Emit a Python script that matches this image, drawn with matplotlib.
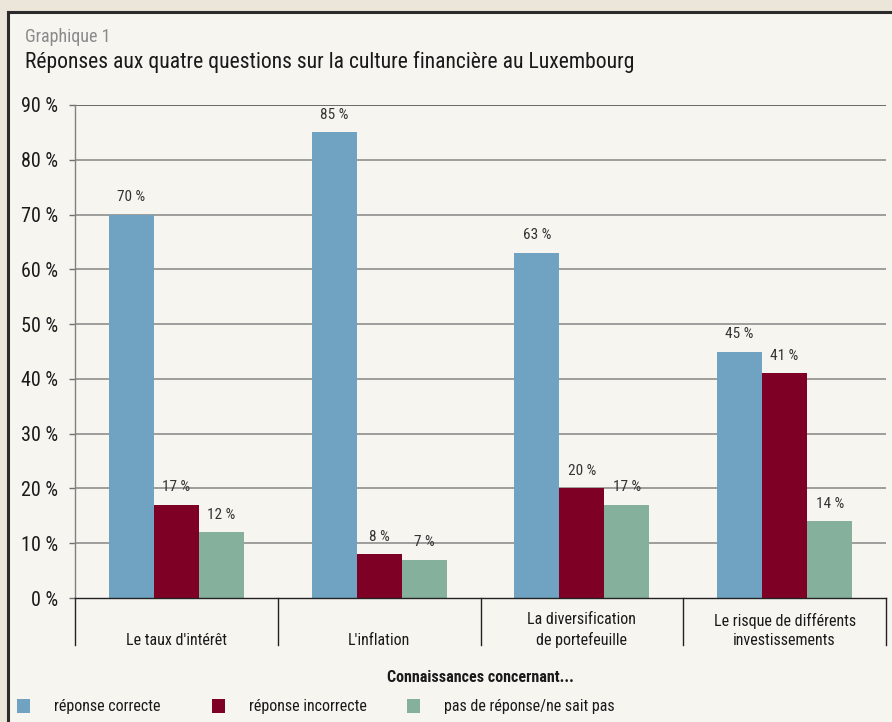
import matplotlib
matplotlib.use("Agg")
import matplotlib.pyplot as plt
from matplotlib.patches import Rectangle
import matplotlib.transforms as mtransforms
import numpy as np

plt.rcParams['font.family'] = ['Roboto Condensed', 'Roboto', 'DejaVu Sans']

categories = ["Le taux d'intérêt", "L'inflation",
              "La diversification\nde portefeuille",
              "Le risque de différents\ninvestissements"]
series_names = ["réponse correcte", "réponse incorrecte", "pas de réponse/ne sait pas"]
correcte = [70, 85, 63, 45]
incorrecte = [17, 8, 20, 41]
sans_reponse = [12, 7, 17, 14]
yticks = [0, 10, 20, 30, 40, 50, 60, 70, 80, 90]

colors = ["#6fa3c1", "#7f0025", "#85b09c"]
W, H = 892, 722

fig = plt.figure(figsize=(W / 100, H / 100), dpi=100)
fig.patch.set_facecolor("#ece5d9")

# light panel with a dark border on the left and top
panel = Rectangle((8 / W, 0), 1, 1 - 12 / H, transform=fig.transFigure,
                  facecolor="#f7f5f0", edgecolor="none", zorder=-5)
fig.add_artist(panel)
fig.add_artist(plt.Line2D([8 / W, 8 / W], [0, 1 - 12 / H], color="#2b2b2b",
                          lw=2.2, transform=fig.transFigure, zorder=-4))
fig.add_artist(plt.Line2D([8 / W, 1], [1 - 12 / H, 1 - 12 / H], color="#2b2b2b",
                          lw=2.2, transform=fig.transFigure, zorder=-4))

def px(x, y):
    return x / W, 1 - y / H

fig.text(*px(25, 37), "Graphique 1", fontsize=13, color="#8a8a8a", va="center")
fig.text(*px(25, 62), "Réponses aux quatre questions sur la culture financière au Luxembourg",
         fontsize=15.6, color="#1a1a1a", va="center")

left, right, top, bottom = 75, 886, 105, 598
ax = fig.add_axes([left / W, 1 - bottom / H, (right - left) / W, (bottom - top) / H])
ax.set_facecolor("none")

x = np.arange(len(categories))
bw = 0.222
for i, (vals, c) in enumerate(zip([correcte, incorrecte, sans_reponse], colors)):
    pos = x + (i - 1) * bw
    ax.bar(pos, vals, width=bw, color=c, zorder=3, label=series_names[i])
    for p, v in zip(pos, vals):
        ax.annotate(f"{v} %", (p, v), xytext=(0, 7.5), textcoords="offset points",
                    ha="center", va="bottom", fontsize=11, color="#333333")

ax.set_xlim(-0.5, len(categories) - 0.5)
ax.set_ylim(0, 90)
ax.set_yticks(yticks)
ax.set_yticklabels([f"{t} %" for t in yticks], fontsize=14.5, color="#1a1a1a")
ax.tick_params(axis="y", length=4.5, width=1.0, color="#707070", pad=7.5)
ax.set_xticks([])
for t in yticks[1:-1]:
    ax.axhline(t, color="#858585", lw=1.1, zorder=1)
ax.axhline(yticks[-1], color="#444444", lw=1.1, zorder=1)
for s in ["top", "right"]:
    ax.spines[s].set_visible(False)
ax.spines["left"].set_color("#808080")
ax.spines["left"].set_linewidth(1.0)
ax.spines["bottom"].set_color("#222222")
ax.spines["bottom"].set_linewidth(1.0)
ax.spines["bottom"].set_zorder(4)

# category separators hanging below the axis
trans = mtransforms.blended_transform_factory(ax.transData, ax.transAxes)
sep_y = -(645 - bottom) / (bottom - top)
for b in np.arange(-0.5, len(categories), 1.0):
    ax.plot([b, b], [0, sep_y], color="#222222", lw=1.0, transform=trans, clip_on=False)
for xi, cat in zip(x, categories):
    ax.text(xi, -(648 - bottom) / (bottom - top), cat, transform=trans, ha="center",
            va="bottom", fontsize=11.5, color="#1a1a1a", linespacing=1.35)

fig.text(*px(480, 677), "Connaissances concernant...", fontsize=11.5, weight="semibold",
         color="#1a1a1a", ha="center", va="center")

# legend squares and labels
leg_x = [17, 212, 407]
for lx, c, name in zip(leg_x, colors, series_names):
    fig.add_artist(Rectangle(px(lx, 713), 13 / W, 14 / H, transform=fig.transFigure,
                             facecolor=c, edgecolor="none"))
    fig.text(*px(lx + 37, 706), name, fontsize=11.5, color="#1a1a1a", va="center")

fig.savefig("out.png", dpi=100, facecolor=fig.get_facecolor())
